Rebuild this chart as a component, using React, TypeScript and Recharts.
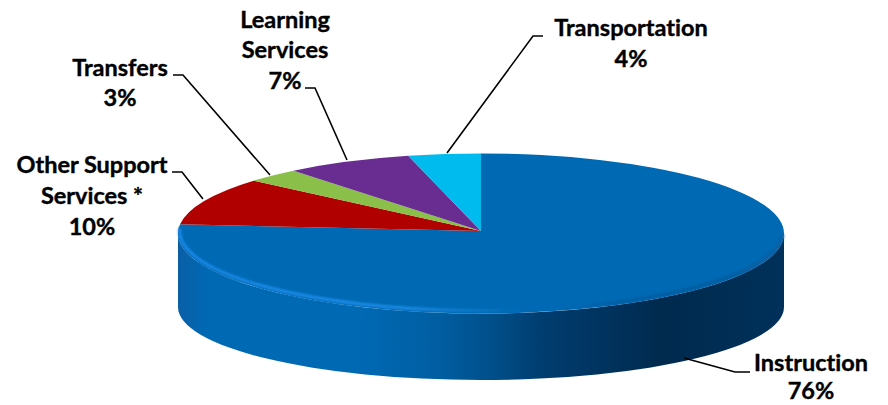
import { PieChart, Pie } from 'recharts';

const categories = ['Instruction', 'Other Support Services *', 'Transfers', 'Learning Services', 'Transportation'];
const shares = [76, 10, 3, 7, 4];
const sliceColors = ['#0069b4', '#b00000', '#8abf4a', '#692d92', '#00bcee'];

const pieData = categories.map((name, i) => ({ name, value: shares[i], fill: sliceColors[i] }));

// wrapped label text and where each callout sits
const calloutLayout: Record<string, { x: number; lines: string[]; baselines: number[]; leader: string }> = {
  Instruction: { x: 811, lines: ['Instruction'], baselines: [371, 399], leader: '750,372 735,372 684,358' },
  'Other Support Services *': {
    x: 92,
    lines: ['Other Support', 'Services *'],
    baselines: [173, 204, 235],
    leader: '172,172 182,172 203,199',
  },
  Transfers: { x: 120, lines: ['Transfers'], baselines: [76, 106], leader: '173,75 183,75 270,175' },
  'Learning Services': {
    x: 285,
    lines: ['Learning', 'Services'],
    baselines: [28, 58, 89],
    leader: '305,88 315,88 347,160',
  },
  Transportation: { x: 631, lines: ['Transportation'], baselines: [36, 67], leader: '543,36 533,36 447,153' },
};

const FLATTEN = 80 / 303;
const TOP_FACE_DROP = 2.5; // ellipse centre sits just below the pie centre
const WALL_CENTER_Y = 307;
const WALL_BOTTOM_RY = 73;
const FORESHORTEN = 0.965;

// point on the top rim for a Recharts angle, with the far side slightly compressed
function rimPoint(cx: number, cy: number, r: number, angle: number) {
  const clockwise = ((90 - angle) % 360 + 360) % 360;
  const fromTop = (360 - clockwise) % 360;
  const t = (fromTop * FORESHORTEN * Math.PI) / 180;
  return {
    x: cx - r * Math.sin(t),
    y: cy + TOP_FACE_DROP - r * FLATTEN * Math.cos(t),
  };
}

function PieSlice(props: any) {
  const { cx, cy, outerRadius: r, startAngle, endAngle, fill, name } = props;
  const ry = r * FLATTEN;
  const from = rimPoint(cx, cy, r, startAngle);
  const to = rimPoint(cx, cy, r, endAngle);
  const large = Math.abs(endAngle - startAngle) > 180 ? 1 : 0;
  const wedge = `M${cx},${cy} L${from.x},${from.y} A${r},${ry} 0 ${large} 1 ${to.x},${to.y} Z`;

  if (name !== categories[0]) {
    return <path d={wedge} fill={fill} />;
  }

  const faceCy = cy + TOP_FACE_DROP;
  const left = cx - r;
  const right = cx + r;
  const wall = `M${left + 1},${faceCy - 8} L${left},${faceCy - 4} L${left},${WALL_CENTER_Y} A${r},${WALL_BOTTOM_RY} 0 0 0 ${right},${WALL_CENTER_Y} L${right},${faceCy} A${r},${ry} 0 0 1 ${left},${faceCy} Z`;
  // soft highlight that follows the front rim, bright on the left, dark on the right
  const rim = `M${left + 2},${faceCy - 5} A${r - 2},${ry - 1} 0 0 0 ${right - 1},${faceCy + 1}`;

  return (
    <g>
      <defs>
        <linearGradient id="wallShade" x1="0" y1="0" x2="1" y2="0">
          <stop offset="0" stopColor="#0a5fa6" />
          <stop offset="0.05" stopColor="#0069b4" />
          <stop offset="0.3" stopColor="#0069b4" />
          <stop offset="0.42" stopColor="#005fa3" />
          <stop offset="0.52" stopColor="#004f8a" />
          <stop offset="0.6" stopColor="#003d70" />
          <stop offset="0.8" stopColor="#002a4e" />
          <stop offset="1" stopColor="#00315a" />
        </linearGradient>
        <linearGradient id="rimShade" x1="0" y1="0" x2="1" y2="0">
          <stop offset="0" stopColor="#1a8aea" />
          <stop offset="0.38" stopColor="#1e8ce6" />
          <stop offset="0.5" stopColor="#1078c8" stopOpacity={0.8} />
          <stop offset="0.6" stopColor="#0069b4" stopOpacity={0} />
          <stop offset="0.72" stopColor="#04528e" stopOpacity={0.5} />
          <stop offset="1" stopColor="#0a5c9c" stopOpacity={0.9} />
        </linearGradient>
        <filter id="rimSoft" x="-5%" y="-20%" width="110%" height="140%">
          <feGaussianBlur stdDeviation="1" />
        </filter>
      </defs>
      <path d={wall} fill="url(#wallShade)" />
      <path d={wedge} fill={fill} />
      <path d={rim} fill="none" stroke="url(#rimShade)" strokeWidth={3} filter="url(#rimSoft)" />
    </g>
  );
}

function Callout(props: any) {
  const { name, value } = props;
  const layout = calloutLayout[name];
  if (!layout) return null;
  const rows = [...layout.lines, `${value}%`];
  return (
    <g>
      <polyline points={layout.leader} fill="none" stroke="#000" strokeWidth={1.6} />
      {rows.map((row, i) => (
        <text
          key={row}
          x={layout.x}
          y={layout.baselines[i]}
          textAnchor="middle"
          fontFamily="Lato"
          fontWeight={700}
          fontSize={23.5}
          fill="#000"
          stroke="#000"
          strokeWidth={0.4}
          style={{ fontVariantLigatures: 'none' }}
        >
          {row}
        </text>
      ))}
    </g>
  );
}

export default function App() {
  return (
    <div style={{ position: 'absolute', left: 0, top: 0 }}>
      <PieChart width={888} height={405} margin={{ top: 0, right: 0, bottom: 0, left: 0 }}>
        <Pie
          data={pieData}
          dataKey="value"
          nameKey="name"
          cx={481}
          cy={231}
          outerRadius={303}
          startAngle={90}
          endAngle={-270}
          stroke="none"
          shape={PieSlice}
          label={Callout}
          labelLine={false}
          isAnimationActive={false}
        />
      </PieChart>
    </div>
  );
}
